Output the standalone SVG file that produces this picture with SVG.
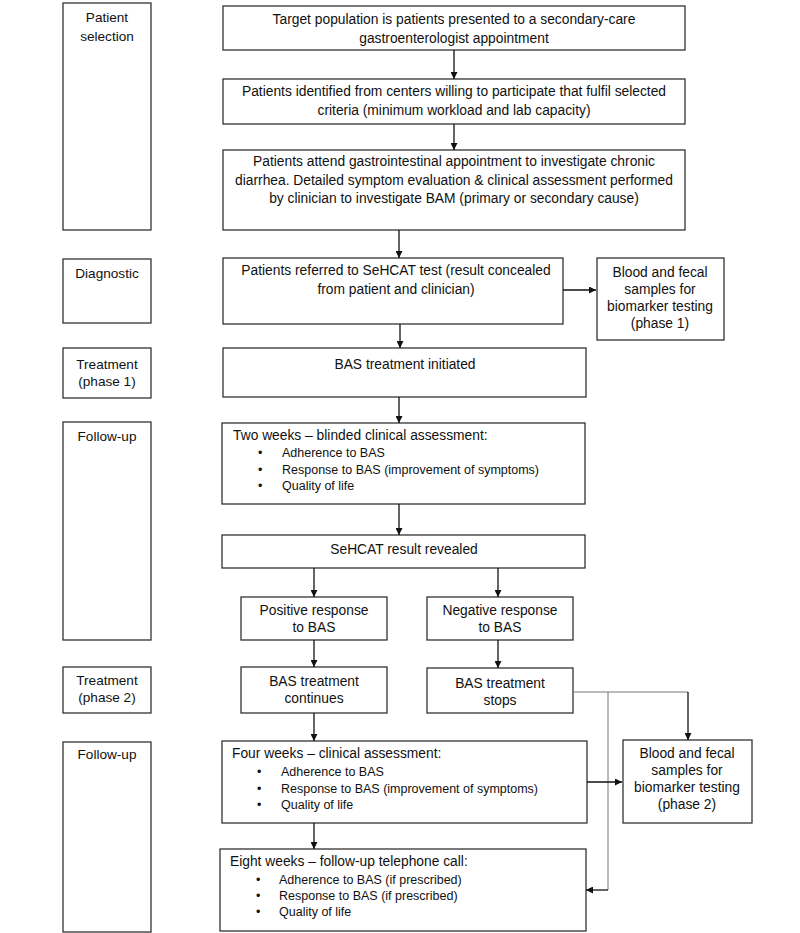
<svg xmlns="http://www.w3.org/2000/svg" width="800" height="933" viewBox="0 0 800 933">
<style>
rect{fill:#fff;stroke:#333;stroke-width:1.3}
text{font-family:"Liberation Sans",Arial,sans-serif;font-size:13.8px;fill:#111}
.c{text-anchor:middle}
.l{font-size:13.6px}
.b{font-size:12.5px}
.cn line,.cn polyline{stroke:#111;stroke-width:1.3;fill:none}
.cn .g{stroke:#777;stroke-width:1}
</style>
<defs>
<marker id="a" viewBox="0 0 10 10" refX="10" refY="5" markerWidth="7" markerHeight="7" markerUnits="userSpaceOnUse" orient="auto"><path d="M0,0L10,5L0,10z" fill="#111"/></marker>
</defs>
<rect width="800" height="933" style="fill:#fff;stroke:none"/>
<g id="lbl-patient"><rect x="63" y="3" width="88" height="227"/><text class="c l" x="107" y="22">Patient</text><text class="c l" x="107" y="41">selection</text></g>
<g id="lbl-diag"><rect x="63" y="259" width="88" height="64"/><text class="c l" x="107" y="278">Diagnostic</text></g>
<g id="lbl-treat1"><rect x="63" y="348" width="88" height="50"/><text class="c l" x="107" y="369">Treatment</text><text class="c l" x="107" y="386">(phase 1)</text></g>
<g id="lbl-follow1"><rect x="63" y="422" width="88" height="218"/><text class="c l" x="107" y="441">Follow-up</text></g>
<g id="lbl-treat2"><rect x="63" y="667" width="88" height="46"/><text class="c l" x="107" y="685">Treatment</text><text class="c l" x="107" y="702">(phase 2)</text></g>
<g id="lbl-follow2"><rect x="63" y="742" width="88" height="190"/><text class="c l" x="107" y="759">Follow-up</text></g>

<g id="n1"><rect x="223" y="6" width="462" height="44"/><text class="c" x="454" y="24">Target population is patients presented to a secondary-care</text><text class="c" x="454" y="43">gastroenterologist appointment</text></g>
<g id="n2"><rect x="223" y="79" width="462" height="45"/><text class="c" x="454" y="96">Patients identified from centers willing to participate that fulfil selected</text><text class="c" x="454" y="115">criteria (minimum workload and lab capacity)</text></g>
<g id="n3"><rect x="223" y="150" width="462" height="80"/><text class="c" x="454" y="166">Patients attend gastrointestinal appointment to investigate chronic</text><text class="c" x="454" y="185">diarrhea. Detailed symptom evaluation &amp; clinical assessment performed</text><text class="c" x="454" y="203">by clinician to investigate BAM (primary or secondary cause)</text></g>
<g id="n4"><rect x="223" y="258" width="340" height="66"/><text class="c" x="396" y="275">Patients referred to SeHCAT test (result concealed</text><text class="c" x="396" y="294">from patient and clinician)</text></g>
<g id="n5"><rect x="597" y="258" width="127" height="82"/><text class="c" x="660" y="277">Blood and fecal</text><text class="c" x="660" y="294">samples for</text><text class="c" x="660" y="311">biomarker testing</text><text class="c" x="660" y="328">(phase 1)</text></g>
<g id="n6"><rect x="223" y="348" width="363" height="49"/><text class="c" x="405" y="369">BAS treatment initiated</text></g>
<g id="n7"><rect x="222" y="423" width="363" height="81"/><text x="233" y="440">Two weeks – blinded clinical assessment:</text><text class="b" x="258" y="457">•</text><text class="b" x="282" y="457">Adherence to BAS</text><text class="b" x="258" y="474">•</text><text class="b" x="282" y="474">Response to BAS (improvement of symptoms)</text><text class="b" x="258" y="490">•</text><text class="b" x="282" y="490">Quality of life</text></g>
<g id="n8"><rect x="222" y="535" width="363" height="33"/><text class="c" x="404" y="554">SeHCAT result revealed</text></g>
<g id="n9"><rect x="241" y="597" width="146" height="43"/><text class="c" x="314" y="615">Positive response</text><text class="c" x="314" y="632">to BAS</text></g>
<g id="n10"><rect x="427" y="597" width="146" height="43"/><text class="c" x="500" y="615">Negative response</text><text class="c" x="500" y="632">to BAS</text></g>
<g id="n11"><rect x="241" y="667" width="146" height="46"/><text class="c" x="314" y="686">BAS treatment</text><text class="c" x="314" y="703">continues</text></g>
<g id="n12"><rect x="427" y="668" width="146" height="45"/><text class="c" x="500" y="688">BAS treatment</text><text class="c" x="500" y="705">stops</text></g>
<g id="n13"><rect x="222" y="741" width="365" height="82"/><text x="232" y="758">Four weeks – clinical assessment:</text><text class="b" x="257" y="776">•</text><text class="b" x="281" y="776">Adherence to BAS</text><text class="b" x="257" y="793">•</text><text class="b" x="281" y="793">Response to BAS (improvement of symptoms)</text><text class="b" x="257" y="809">•</text><text class="b" x="281" y="809">Quality of life</text></g>
<g id="n14"><rect x="623" y="740" width="129" height="83"/><text class="c" x="687" y="758">Blood and fecal</text><text class="c" x="687" y="775">samples for</text><text class="c" x="687" y="792">biomarker testing</text><text class="c" x="687" y="809">(phase 2)</text></g>
<g id="n15"><rect x="220" y="849" width="366" height="82"/><text x="230" y="866">Eight weeks – follow-up telephone call:</text><text class="b" x="256" y="884">•</text><text class="b" x="279" y="884">Adherence to BAS (if prescribed)</text><text class="b" x="256" y="900">•</text><text class="b" x="279" y="900">Response to BAS (if prescribed)</text><text class="b" x="256" y="916">•</text><text class="b" x="279" y="916">Quality of life</text></g>

<g id="connectors" class="cn">
<line x1="454" y1="50" x2="454" y2="79" marker-end="url(#a)"/>
<line x1="454" y1="124" x2="454" y2="150" marker-end="url(#a)"/>
<line x1="399" y1="230" x2="399" y2="258" marker-end="url(#a)"/>
<line x1="563" y1="290" x2="596" y2="290" marker-end="url(#a)"/>
<line x1="400" y1="324" x2="400" y2="348" marker-end="url(#a)"/>
<line x1="399" y1="397" x2="399" y2="423" marker-end="url(#a)"/>
<line x1="399" y1="504" x2="399" y2="535" marker-end="url(#a)"/>
<line x1="314" y1="568" x2="314" y2="597" marker-end="url(#a)"/>
<line x1="498" y1="568" x2="498" y2="597" marker-end="url(#a)"/>
<line x1="314" y1="640" x2="314" y2="667" marker-end="url(#a)"/>
<line x1="498" y1="640" x2="498" y2="668" marker-end="url(#a)"/>
<polyline class="g" points="573,692 688,692"/>
<line x1="688" y1="692" x2="688" y2="740" marker-end="url(#a)"/>
<polyline class="g" points="608,692 608,890"/>
<line x1="608" y1="890" x2="586" y2="890" marker-end="url(#a)"/>
<line x1="587" y1="782" x2="622" y2="782" marker-end="url(#a)"/>
<line x1="314" y1="713" x2="314" y2="741" marker-end="url(#a)"/>
<line x1="314" y1="823" x2="314" y2="849" marker-end="url(#a)"/>
</g>
</svg>
